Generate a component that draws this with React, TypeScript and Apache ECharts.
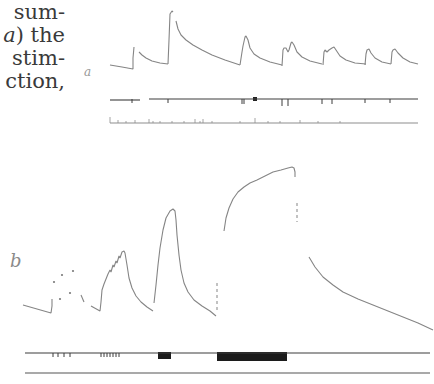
import React, { useEffect, useRef } from "react";
import * as echarts from "echarts";

// ---- trace a (upper record) ----
const traceA1 = [[110, 65], [122, 67], [133, 69], [133, 58], [134, 47]];
const traceA2 = [[139, 52], [142, 55], [146, 58], [152, 61], [160, 63], [168, 64]];
const traceA3 = [[168, 64], [169, 40], [170, 14], [172, 11], [173, 12]];
const traceA4 = [[176, 21], [178, 29], [181, 35], [186, 40], [193, 45], [202, 50], [212, 55], [225, 60], [240, 65]];
const traceA5 = [[240, 65], [242, 52], [243, 46], [245, 37], [246, 36], [248, 40], [250, 48], [254, 54], [260, 58], [270, 62], [282, 65]];
const traceA6 = [[282, 66], [283, 50], [284, 48], [286, 48], [288, 52], [289, 50], [291, 43], [292, 42], [294, 45], [297, 52], [302, 57], [310, 61], [322, 64]];
const traceA7 = [[323, 65], [324, 52], [325, 50], [327, 52], [329, 50], [332, 48], [334, 47], [336, 50], [340, 56], [346, 60], [355, 63], [366, 64]];
const traceA8 = [[365, 65], [366, 54], [367, 50], [369, 49], [371, 53], [375, 58], [382, 62], [391, 64]];
const traceA9 = [[391, 64], [392, 52], [393, 50], [395, 49], [398, 53], [403, 58], [410, 62], [418, 64]];

const signalA1 = [[110, 100], [140, 100]];
const signalA2 = [[149, 99], [418, 99]];
const signalTicksA = [[132, 99, 103], [168, 99, 103], [242, 99, 104], [244, 99, 104], [282, 99, 106], [288, 99, 106], [322, 99, 104], [332, 99, 104], [365, 99, 103], [390, 99, 103]];
const signalBlocksA = [[253, 257, 97, 101]];

const timeA = [[110, 123], [418, 123]];
const timeTicksA = [[110, 117, 123], [118, 120, 123], [126, 121, 123], [135, 120, 123], [149, 119, 123], [153, 121, 123], [160, 121, 123], [172, 121, 123], [184, 121, 123], [195, 119, 123], [200, 121, 123], [203, 119, 123], [212, 121, 123], [240, 121, 123], [255, 118, 123], [268, 121, 123], [280, 121, 123], [300, 120, 123], [318, 121, 123], [340, 121, 123]];

// ---- trace b (lower record) ----
const traceB1 = [[23, 305], [37, 309], [51, 313], [52, 306], [52, 299]];
const dotsB = [[54, 282], [62, 275], [73, 271], [60, 299], [70, 293]];
const traceB2 = [[81, 295], [84, 302]];
const traceB3 = [[91, 306], [100, 311], [101, 302], [102, 290], [104, 284], [106, 279], [108, 274], [110, 270], [111, 272], [113, 265], [114, 267], [116, 261], [117, 263], [119, 256], [120, 258], [122, 252], [124, 251], [125, 253], [127, 265], [129, 278], [132, 288], [136, 296], [141, 302], [147, 307], [153, 311]];
const traceB4 = [[154, 303], [156, 285], [158, 265], [160, 248], [163, 230], [166, 218], [170, 211], [173, 209], [175, 211], [176, 220], [177, 235], [179, 255], [181, 270], [184, 283], [188, 292], [194, 300], [202, 306], [210, 311], [216, 316]];
const dashB1 = [[217, 283], [217, 310]];
const traceB5 = [[224, 231], [226, 218], [229, 208], [233, 199], [238, 192], [244, 187], [250, 183], [257, 180], [265, 176], [273, 172], [281, 170], [288, 168], [292, 167], [294, 168], [295, 172], [295, 177]];
const dashB2 = [[297, 203], [297, 222]];
const traceB6 = [[309, 257], [315, 267], [323, 277], [333, 285], [343, 292], [358, 299], [373, 305], [388, 311], [403, 317], [418, 323], [433, 330]];

const signalB = [[25, 353], [430, 353]];
const signalTicksB = [[53, 353, 357], [58, 353, 357], [64, 353, 357], [70, 353, 357], [101, 353, 357], [104, 353, 357], [107, 353, 357], [110, 353, 357], [113, 353, 357], [116, 353, 357], [119, 353, 357]];
const signalBlocksB = [[158, 171, 352, 359], [217, 287, 352, 361]];
const timeB = [[25, 373], [430, 373]];

// ---- text ----
const pageLines = ["sum-", "{i|a}) the", "stim-", "ction,"];
const panelLabels = ["a", "b"];

const TRACE = "#858585";
const SIGNAL = "#3c3c3c";
const TIME = "#8d8d8d";

function line(data: number[][], color: string, width: number, dashed = false) {
  return {
    type: "line",
    data,
    symbol: "none",
    silent: true,
    lineStyle: { color, width, type: dashed ? [3, 3] : "solid" },
  };
}

function ticks(data: number[][], color: string, width: number) {
  return {
    type: "custom",
    data,
    silent: true,
    encode: { x: 0, y: [1, 2] },
    renderItem: (_p: any, api: any) => {
      const a = api.coord([api.value(0), api.value(1)]);
      const b = api.coord([api.value(0), api.value(2)]);
      return {
        type: "line",
        shape: { x1: a[0], y1: a[1], x2: b[0], y2: b[1] },
        style: { stroke: color, lineWidth: width },
      };
    },
  };
}

function blocks(data: number[][], color: string) {
  return {
    type: "custom",
    data,
    silent: true,
    encode: { x: [0, 1], y: [2, 3] },
    renderItem: (_p: any, api: any) => {
      const a = api.coord([api.value(0), api.value(2)]);
      const b = api.coord([api.value(1), api.value(3)]);
      return {
        type: "rect",
        shape: { x: a[0], y: a[1], width: b[0] - a[0], height: b[1] - a[1] },
        style: { fill: color },
      };
    },
  };
}

export default function App() {
  const ref = useRef<HTMLDivElement>(null);
  useEffect(() => {
    document.body.style.margin = "0";
    const chart = echarts.init(ref.current!, null, { renderer: "svg" });
    chart.setOption({
      animation: false,
      backgroundColor: "#ffffff",
      grid: { left: 0, top: 0, right: 0, bottom: 0 },
      xAxis: { type: "value", min: 0, max: 434, show: false },
      yAxis: { type: "value", min: 0, max: 384, inverse: true, show: false },
      graphic: [
        ...pageLines.map((t, i) => ({
          type: "text",
          x: 65,
          y: 12 + i * 23,
          style: {
            text: t,
            fill: "#3a3a3a",
            fontFamily: "DejaVu Serif",
            fontSize: 21,
            align: "right",
            verticalAlign: "middle",
            rich: { i: { fontStyle: "italic", fontFamily: "DejaVu Serif", fontSize: 21, fill: "#3a3a3a" } },
          },
        })),
        {
          type: "text",
          x: 84,
          y: 72,
          style: { text: panelLabels[0], fill: "#9a9a9a", fontFamily: "DejaVu Serif", fontStyle: "italic", fontSize: 12, verticalAlign: "middle" },
        },
        {
          type: "text",
          x: 10,
          y: 260,
          style: { text: panelLabels[1], fill: "#8a8a8a", fontFamily: "DejaVu Serif", fontStyle: "italic", fontSize: 18, verticalAlign: "middle" },
        },
      ],
      series: [
        ...[traceA1, traceA2, traceA3, traceA4, traceA5, traceA6, traceA7, traceA8, traceA9].map((d) => line(d, TRACE, 1.1)),
        line(signalA1, SIGNAL, 1.1),
        line(signalA2, SIGNAL, 1.1),
        ticks(signalTicksA, SIGNAL, 1),
        blocks(signalBlocksA, "#222"),
        line(timeA, TIME, 1),
        ticks(timeTicksA, TIME, 0.8),
        ...[traceB1, traceB2, traceB3, traceB4, traceB5, traceB6].map((d) => line(d, TRACE, 1.1)),
        line(dashB1, TRACE, 1, true),
        line(dashB2, TRACE, 1, true),
        {
          type: "scatter",
          data: dotsB,
          symbolSize: 2.2,
          silent: true,
          itemStyle: { color: "#666" },
        },
        line(signalB, SIGNAL, 1.2),
        ticks(signalTicksB, SIGNAL, 1),
        blocks(signalBlocksB, "#1c1c1c"),
        line(timeB, TIME, 1.3),
      ],
    });
    return () => chart.dispose();
  }, []);
  return <div ref={ref} style={{ width: 434, height: 384 }} />;
}
